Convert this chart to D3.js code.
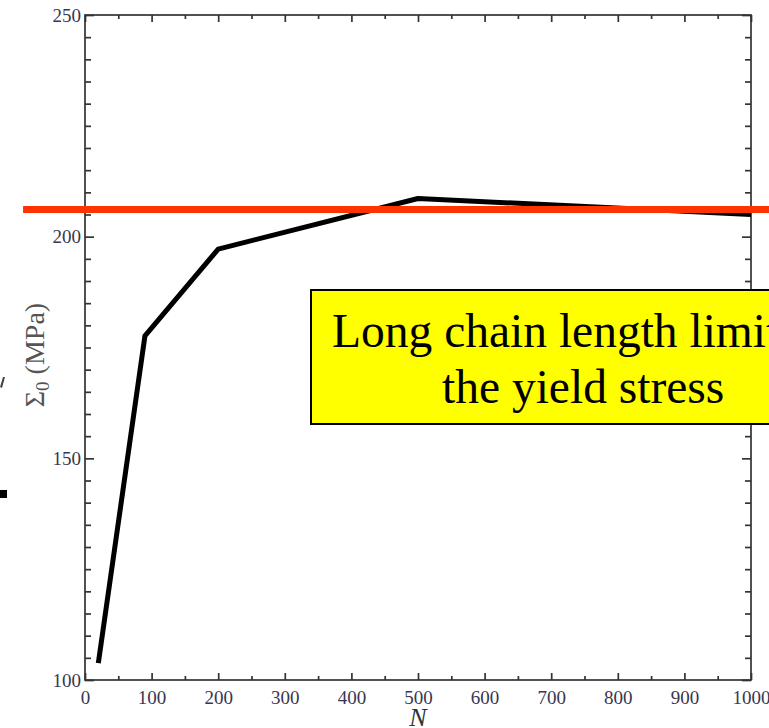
<!DOCTYPE html>
<html>
<head>
<meta charset="utf-8">
<script src="https://cdn.jsdelivr.net/npm/d3@7"></script>
<style>
  html, body { margin: 0; padding: 0; background: #fff; }
  svg { display: block; }
  .tick text { font-family: "Liberation Serif", "Times New Roman", serif; }
</style>
</head>
<body>
<svg id="chart" width="769" height="728"></svg>
<script>
// Chain length N vs. yield stress Σ0
const chainLength = [20, 90, 200, 500, 1000];
const yieldStress = [103.8, 177.6, 197.2, 208.6, 205.0];

// Horizontal reference level for the yield stress limit
const limitStress = 206.1;
const limitSpan = [-93, 1040];

const xMajorTicks = d3.range(0, 1001, 100);
const xMinorTicks = d3.range(50, 1000, 100);
const yMajorTicks = [100, 150, 200, 250];
const yMinorTicks = d3.range(100, 251, 5).filter(v => v % 50 !== 0);

const calloutLines = ["Long chain length limits", "the yield stress"];

const svg = d3.select("#chart");
const plot = { left: 85, right: 751, top: 15, bottom: 680 };

const x = d3.scaleLinear().domain([0, 1000]).range([plot.left, plot.right]);
const y = d3.scaleLinear().domain([100, 250]).range([plot.bottom, plot.top]);

const axisColor = "#333";
const labelColor = "#3a3650";

function styleAxis(g) {
  g.select(".domain").remove();
  g.selectAll(".tick line").attr("stroke", axisColor).attr("stroke-width", 1.7);
  g.selectAll(".tick text").attr("fill", labelColor).attr("font-size", 19);
}

// Frame
svg.append("rect")
  .attr("x", plot.left).attr("y", plot.top)
  .attr("width", plot.right - plot.left).attr("height", plot.bottom - plot.top)
  .attr("fill", "none").attr("stroke", axisColor).attr("stroke-width", 1.7);

// Bottom axis (labelled), ticks pointing inward
svg.append("g").attr("transform", `translate(0,${plot.bottom})`)
  .call(d3.axisBottom(x).tickValues(xMajorTicks).tickSize(-7).tickPadding(11).tickFormat(d3.format("d")))
  .call(styleAxis);
svg.append("g").attr("transform", `translate(0,${plot.bottom})`)
  .call(d3.axisBottom(x).tickValues(xMinorTicks).tickSize(-4).tickFormat(""))
  .call(styleAxis);
// Top axis mirror ticks
svg.append("g").attr("transform", `translate(0,${plot.top})`)
  .call(d3.axisTop(x).tickValues(xMajorTicks).tickSize(-7).tickFormat(""))
  .call(styleAxis);
svg.append("g").attr("transform", `translate(0,${plot.top})`)
  .call(d3.axisTop(x).tickValues(xMinorTicks).tickSize(-4).tickFormat(""))
  .call(styleAxis);

// Left axis (labelled)
svg.append("g").attr("transform", `translate(${plot.left},0)`)
  .call(d3.axisLeft(y).tickValues(yMajorTicks).tickSize(-9).tickPadding(4).tickFormat(d3.format("d")))
  .call(styleAxis);
svg.append("g").attr("transform", `translate(${plot.left},0)`)
  .call(d3.axisLeft(y).tickValues(yMinorTicks).tickSize(-6).tickFormat(""))
  .call(styleAxis);
// Right axis mirror ticks
svg.append("g").attr("transform", `translate(${plot.right},0)`)
  .call(d3.axisRight(y).tickValues(yMajorTicks).tickSize(-9).tickFormat(""))
  .call(styleAxis);
svg.append("g").attr("transform", `translate(${plot.right},0)`)
  .call(d3.axisRight(y).tickValues(yMinorTicks).tickSize(-6).tickFormat(""))
  .call(styleAxis);

// Axis titles
svg.append("text")
  .attr("x", x(500)).attr("y", 726)
  .attr("text-anchor", "middle")
  .attr("font-family", "Liberation Serif, serif")
  .attr("font-style", "italic")
  .attr("font-size", 26)
  .attr("fill", "#333")
  .text("N");

const yTitle = svg.append("text")
  .attr("transform", `translate(44,355) rotate(-90)`)
  .attr("text-anchor", "middle")
  .attr("font-family", "Liberation Serif, serif")
  .attr("font-size", 28)
  .attr("fill", "#555");
yTitle.append("tspan").text("Σ");
yTitle.append("tspan").attr("font-size", 19).attr("dy", 5).text("0");
yTitle.append("tspan").attr("dy", -5).text(" (MPa)");

// Data line
const line = d3.line().x((d, i) => x(chainLength[i])).y(d => y(d));
svg.append("path")
  .datum(yieldStress)
  .attr("d", line)
  .attr("fill", "none")
  .attr("stroke", "#000")
  .attr("stroke-width", 5)
  .attr("stroke-linejoin", "round");

// Limit level
svg.append("line")
  .attr("x1", x(limitSpan[0])).attr("x2", x(limitSpan[1]))
  .attr("y1", y(limitStress)).attr("y2", y(limitStress))
  .attr("stroke", "#ff3300")
  .attr("stroke-width", 7);

// Callout box
const box = svg.append("g");
box.append("rect")
  .attr("x", 311).attr("y", 290)
  .attr("width", 560).attr("height", 134)
  .attr("fill", "#ffff00")
  .attr("stroke", "#000")
  .attr("stroke-width", 2);
box.selectAll("text.callout")
  .data(calloutLines)
  .join("text")
  .attr("class", "callout")
  .attr("x", (d, i) => i === 0 ? 332 : 442)
  .attr("y", (d, i) => 347 + i * 56)
  .attr("font-family", "Liberation Serif, 'Times New Roman', serif")
  .attr("font-size", 47.5)
  .attr("fill", "#000")
  .text(d => d);

// Cropped slide fragments at the left edge
svg.append("rect").attr("x", 0).attr("y", 490).attr("width", 7).attr("height", 8).attr("fill", "#000");
svg.append("path").attr("d", "M0,387 L3,377 L5,377 L2,388 Z").attr("fill", "#444");
</script>
</body>
</html>
